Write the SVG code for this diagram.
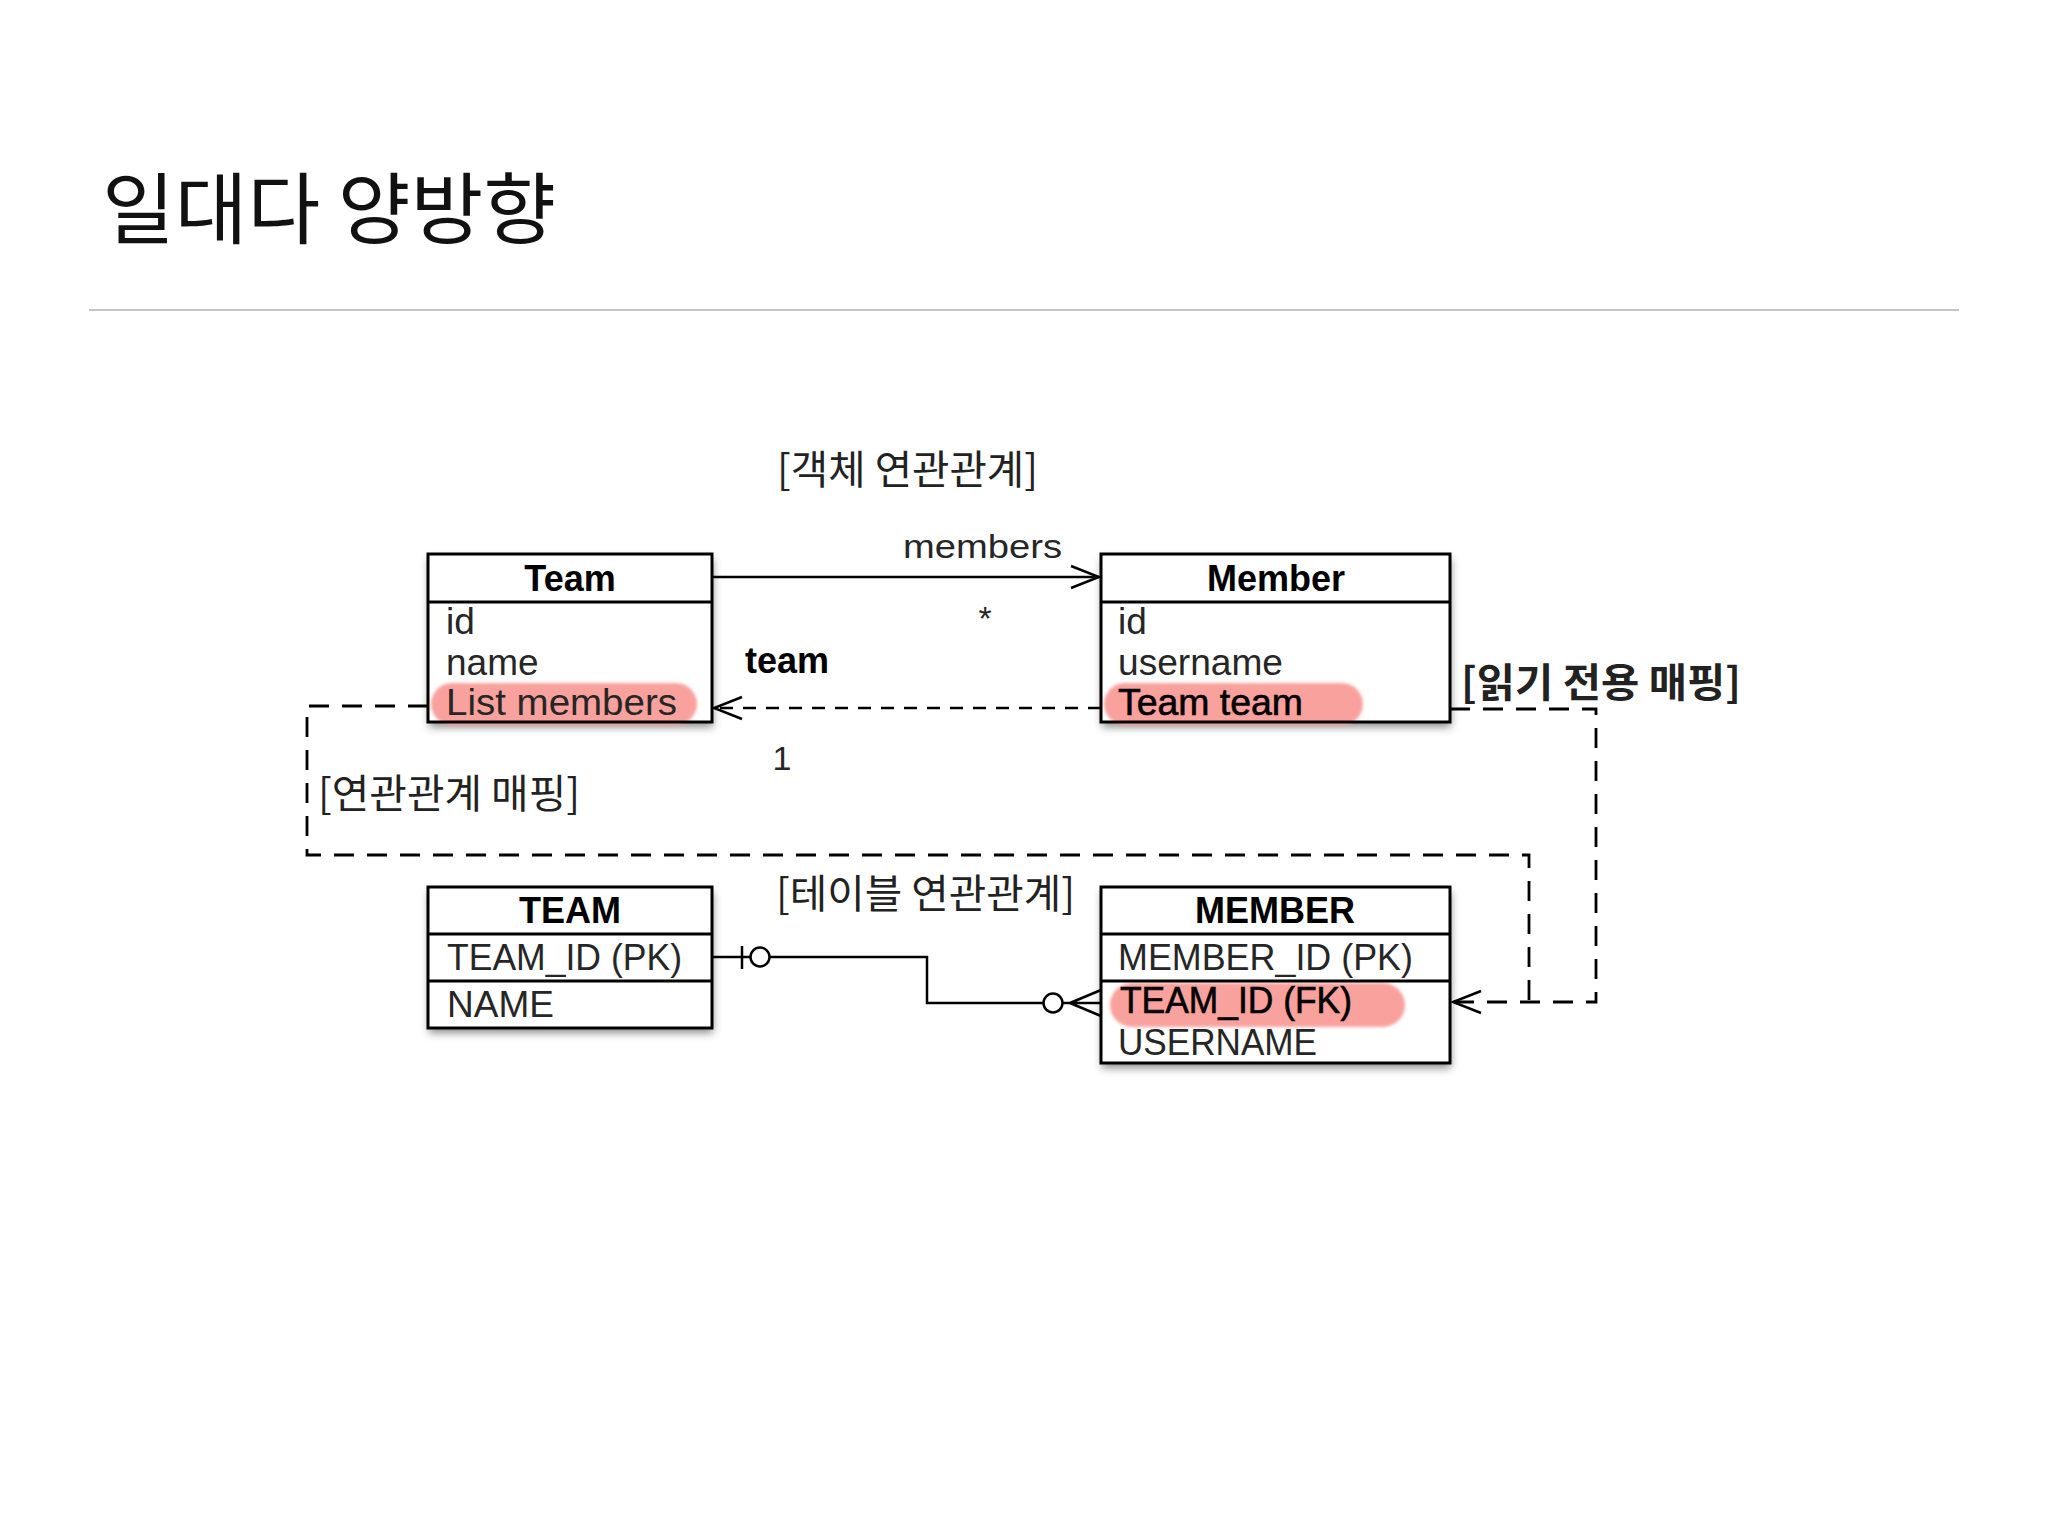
<svg xmlns="http://www.w3.org/2000/svg" width="2048" height="1536" viewBox="0 0 2048 1536">
<style>
.box{fill:#fff;filter:url(#shadow)}
.border{fill:none;stroke:#000;stroke-width:3}
.sep{stroke:#000;stroke-width:3}
.hl{fill:#f9a19d;filter:url(#soft)}
.hdr{font-family:"Liberation Sans",Arial,sans-serif;font-weight:bold;font-size:36px;fill:#000;text-anchor:middle}
.attr{font-family:"Liberation Sans",Arial,sans-serif;font-size:37px;fill:#262626}
.attrb{font-family:"Liberation Sans",Arial,sans-serif;font-size:37px;fill:#000;stroke:#000;stroke-width:0.6}
.lbl{font-family:"Liberation Sans",Arial,sans-serif;font-size:34px;fill:#262626}
.ko{font-family:"Noto Sans CJK KR","Noto Sans CJK SC",sans-serif;font-size:40px;fill:#222}
.line{fill:none;stroke:#000;stroke-width:2.5}
.dash{fill:none;stroke:#000;stroke-width:2.5;stroke-dasharray:13 10}
.dashl{fill:none;stroke:#000;stroke-width:2.8;stroke-dasharray:20 13}
</style>
<defs>
<filter id="shadow" x="-10%" y="-10%" width="120%" height="130%">
<feDropShadow dx="1" dy="5" stdDeviation="4" flood-color="#000" flood-opacity="0.45"/>
</filter>
<filter id="soft" x="-5%" y="-20%" width="110%" height="140%">
<feGaussianBlur stdDeviation="1.5"/>
</filter>
<marker id="arr" viewBox="0 0 31 26" refX="29" refY="13" markerWidth="31" markerHeight="26" markerUnits="userSpaceOnUse" orient="auto">
<path d="M1,2 L29,13 L1,24" fill="none" stroke="#000" stroke-width="2.5" stroke-dasharray="none"/>
</marker>
</defs>
<rect width="2048" height="1536" fill="#fff"/>

<g id="title">
<text x="102" y="238" font-family="Noto Sans CJK KR, Noto Sans CJK SC, sans-serif" font-size="78" fill="#111" textLength="454" lengthAdjust="spacingAndGlyphs">일대다 양방향</text>
<line x1="89" y1="310" x2="1959" y2="310" stroke="#c4c4c4" stroke-width="2"/>
</g>

<g id="connectors">
<path class="line" d="M712,577 H1099" marker-end="url(#arr)"/>
<path class="dash" d="M1101,708 H714" marker-end="url(#arr)"/>
<path class="dashl" d="M428,706 H307 V855 H1529 V1002"/>
<path class="dashl" d="M1450,709 H1596 V1002 H1453" marker-end="url(#arr)"/>
<path class="line" d="M712,957 H750"/>
<line class="line" x1="742" y1="946" x2="742" y2="969"/>
<circle cx="760" cy="957" r="9.5" fill="#fff" stroke="#000" stroke-width="2.5"/>
<path class="line" d="M769.5,957 H927 V1003 H1043.5"/>
<circle cx="1053" cy="1003" r="9.5" fill="#fff" stroke="#000" stroke-width="2.5"/>
<path class="line" d="M1062.5,1003 H1101 M1070,1003 L1101,990 M1070,1003 L1101,1016"/>
</g>

<g id="labels">
<text class="ko" x="777" y="484" textLength="261" lengthAdjust="spacingAndGlyphs">[객체 연관관계]</text>
<text class="lbl" x="903" y="558" textLength="159" lengthAdjust="spacingAndGlyphs">members</text>
<text class="lbl" x="985" y="630" text-anchor="middle" font-size="38">*</text>
<text x="745" y="673" font-family="Liberation Sans, Arial, sans-serif" font-weight="bold" font-size="36" fill="#000">team</text>
<text class="lbl" x="782" y="770" text-anchor="middle" font-size="36">1</text>
<text class="ko" x="318" y="808" textLength="262" lengthAdjust="spacingAndGlyphs">[연관관계 매핑]</text>
<text class="ko" x="776" y="908" textLength="299" lengthAdjust="spacingAndGlyphs">[테이블 연관관계]</text>
<text class="ko" x="1461" y="697" font-weight="bold" fill="#000" textLength="280" lengthAdjust="spacingAndGlyphs">[읽기 전용 매핑]</text>
</g>

<g id="node-team">
<rect class="box" x="428" y="554" width="284" height="168"/>
<rect class="hl" x="431" y="683" width="266" height="42" rx="21"/>
<line class="sep" x1="428" y1="602" x2="712" y2="602"/>
<text class="hdr" x="570" y="591">Team</text>
<text class="attr" x="446" y="634">id</text>
<text class="attr" x="446" y="675">name</text>
<text class="attr" x="446" y="715" textLength="231" lengthAdjust="spacingAndGlyphs">List members</text>
<rect class="border" x="428" y="554" width="284" height="168"/>
</g>

<g id="node-member">
<rect class="box" x="1101" y="554" width="349" height="168"/>
<rect class="hl" x="1104" y="683" width="259" height="42" rx="21"/>
<line class="sep" x1="1101" y1="602" x2="1450" y2="602"/>
<text class="hdr" x="1276" y="591">Member</text>
<text class="attr" x="1118" y="634">id</text>
<text class="attr" x="1118" y="675" textLength="165" lengthAdjust="spacingAndGlyphs">username</text>
<text class="attrb" x="1118" y="715" textLength="185" lengthAdjust="spacingAndGlyphs">Team team</text>
<rect class="border" x="1101" y="554" width="349" height="168"/>
</g>

<g id="node-TEAM">
<rect class="box" x="428" y="887" width="284" height="141"/>
<line class="sep" x1="428" y1="934" x2="712" y2="934"/>
<line class="sep" x1="428" y1="981" x2="712" y2="981"/>
<text class="hdr" x="570" y="923">TEAM</text>
<text class="attr" x="447" y="970" textLength="235" lengthAdjust="spacingAndGlyphs">TEAM_ID (PK)</text>
<text class="attr" x="447" y="1017">NAME</text>
<rect class="border" x="428" y="887" width="284" height="141"/>
</g>

<g id="node-MEMBER">
<rect class="box" x="1101" y="887" width="349" height="176"/>
<rect class="hl" x="1110" y="983" width="295" height="44" rx="22"/>
<line class="sep" x1="1101" y1="934" x2="1450" y2="934"/>
<line class="sep" x1="1101" y1="981" x2="1450" y2="981"/>
<text class="hdr" x="1275" y="923">MEMBER</text>
<text class="attr" x="1118" y="970" textLength="295" lengthAdjust="spacingAndGlyphs">MEMBER_ID (PK)</text>
<text class="attrb" x="1120" y="1013" textLength="232" lengthAdjust="spacingAndGlyphs">TEAM_ID (FK)</text>
<text class="attr" x="1118" y="1055" textLength="199" lengthAdjust="spacingAndGlyphs">USERNAME</text>
<rect class="border" x="1101" y="887" width="349" height="176"/>
</g>
</svg>
